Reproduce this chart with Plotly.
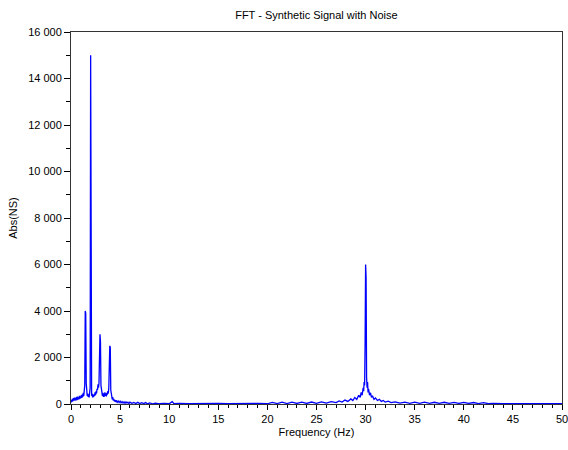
import plotly.graph_objects as go

# Frequency (Hz) and |FFT| amplitude
freq = [
    0.00, 0.05, 0.10, 0.15, 0.20, 0.25, 0.30, 0.35, 0.40, 0.45, 0.50, 0.55, 0.60, 0.65, 0.70,
    0.75, 0.80, 0.85, 0.90, 0.95, 1.00, 1.05, 1.10, 1.15, 1.20, 1.25, 1.30, 1.35, 1.40, 1.45,
    1.50, 1.55, 1.60, 1.65, 1.70, 1.75, 1.80, 1.85, 1.90, 1.95, 2.00, 2.05, 2.10, 2.15, 2.20,
    2.25, 2.30, 2.35, 2.40, 2.45, 2.50, 2.55, 2.60, 2.65, 2.70, 2.75, 2.80, 2.85, 2.90, 2.95,
    3.00, 3.05, 3.10, 3.15, 3.20, 3.25, 3.30, 3.35, 3.40, 3.45, 3.50, 3.55, 3.60, 3.65, 3.70,
    3.75, 3.80, 3.85, 3.90, 3.95, 4.00, 4.05, 4.10, 4.15, 4.20, 4.25, 4.30, 4.35, 4.40, 4.45,
    4.50, 4.60, 4.70, 4.80, 4.90, 5.00, 5.10, 5.20, 5.30, 5.40, 5.50, 5.60, 5.70, 5.80, 5.90,
    6.00, 6.20, 6.40, 6.60, 6.80, 7.00, 7.20, 7.40, 7.60, 7.80, 8.00, 8.30, 8.60, 9.00, 9.50,
    10.00, 10.30, 10.50, 11.00, 12.00, 13.00, 14.00, 15.00, 16.00, 17.00, 18.00, 19.00, 20.00,
    20.50, 21.00, 21.50, 22.00, 22.50, 23.00, 23.50, 24.00, 24.50, 25.00, 25.50, 26.00, 26.50,
    27.00, 27.30, 27.60, 27.90, 28.20, 28.50, 28.70, 28.90, 29.10, 29.30, 29.45, 29.55, 29.65,
    29.75, 29.80, 29.85, 29.90, 29.95, 30.00, 30.05, 30.10, 30.15, 30.20, 30.25, 30.30, 30.40,
    30.50, 30.60, 30.70, 30.85, 31.00, 31.20, 31.40, 31.60, 31.80, 32.00, 32.30, 32.60, 33.00,
    33.50, 34.00, 34.50, 35.00, 35.50, 36.00, 36.50, 37.00, 37.50, 38.00, 38.50, 39.00, 39.50,
    40.00, 40.50, 41.00, 41.50, 42.00, 42.50, 43.00, 44.00, 45.00, 46.00, 47.00, 48.00, 49.00,
    50.00,
]
amplitude = [
    60, 180, 90, 220, 120, 250, 140, 280, 160, 260, 150, 300, 170, 320, 190,
    280, 200, 350, 220, 330, 250, 380, 260, 420, 300, 480, 350, 650, 800, 4000,
    3900, 900, 500, 350, 450, 300, 420, 280, 500, 700, 15000, 600, 350, 450, 280,
    400, 300, 420, 350, 500, 380, 550, 450, 650, 600, 850, 700, 900, 2100, 3000,
    2700, 800, 500, 650, 350, 480, 300, 450, 320, 500, 350, 460, 330, 480, 400,
    550, 450, 700, 1800, 2500, 2450, 600, 350, 420, 200, 300, 150, 220, 120, 180,
    90, 160, 70, 130, 60, 120, 50, 100, 40, 90, 30, 90, 40, 80, 20,
    80, 30, 70, 20, 70, 20, 60, 15, 60, 10, 50, 10, 40, 10, 30,
    10, 100, 10, 25, 10, 25, 10, 25, 10, 25, 10, 30, 10,
    70, 20, 80, 20, 80, 25, 80, 25, 85, 30, 90, 40, 100,
    60, 130, 80, 170, 110, 220, 150, 280, 200, 380, 280, 500, 380,
    700, 550, 950, 800, 2600, 6000, 5450, 1150, 700, 950, 500, 650, 380,
    480, 280, 350, 200, 260, 150, 200, 110, 150, 80, 120, 60, 90,
    40, 80, 30, 80, 30, 80, 30, 75, 30, 75, 30, 70, 25,
    70, 25, 65, 20, 60, 15, 25, 10, 20, 10, 20, 10, 20,
    10,
]

x_ticks = [0, 5, 10, 15, 20, 25, 30, 35, 40, 45, 50]
y_ticks = [0, 2000, 4000, 6000, 8000, 10000, 12000, 14000, 16000]

font_family = "Liberation Sans, Arial, sans-serif"

fig = go.Figure()
fig.add_trace(go.Scatter(
    x=freq, y=amplitude, mode="lines",
    line=dict(color="#0000ff", width=1.3),
    showlegend=False, hoverinfo="skip",
))

fig.update_layout(
    width=568, height=450,
    margin=dict(l=71, r=6, t=32, b=46),
    paper_bgcolor="white", plot_bgcolor="white",
    separators=". ",
    font=dict(family=font_family, size=11, color="black"),
    title=dict(text="FFT - Synthetic Signal with Noise", x=0.557, xanchor="center",
               y=0.967, yanchor="middle", font=dict(size=11, family=font_family)),
    xaxis=dict(
        range=[0, 50], tickvals=x_ticks, ticks="outside", ticklen=5, tickcolor="black",
        showline=True, linecolor="#333333", linewidth=1, mirror=True,
        showgrid=False, zeroline=False, ticklabeloverflow="allow", automargin=False,
        minor=dict(dtick=1, ticks="outside", ticklen=3, tickcolor="black", showgrid=False),
        title=dict(text="Frequency (Hz)", standoff=4, font=dict(size=11)),
        tickfont=dict(size=11),
    ),
    yaxis=dict(
        range=[0, 16000], tickvals=y_ticks, tickformat=",d", ticks="outside", ticklen=6,
        tickcolor="black",
        showline=True, linecolor="#333333", linewidth=1, mirror=True,
        showgrid=False, zeroline=False,
        minor=dict(dtick=1000, ticks="outside", ticklen=4, tickcolor="black", showgrid=False),
        title=dict(text="Abs(NS)", standoff=8, font=dict(size=11)),
        tickfont=dict(size=11),
    ),
)

fig.write_html("out.html", config={"displayModeBar": False})
